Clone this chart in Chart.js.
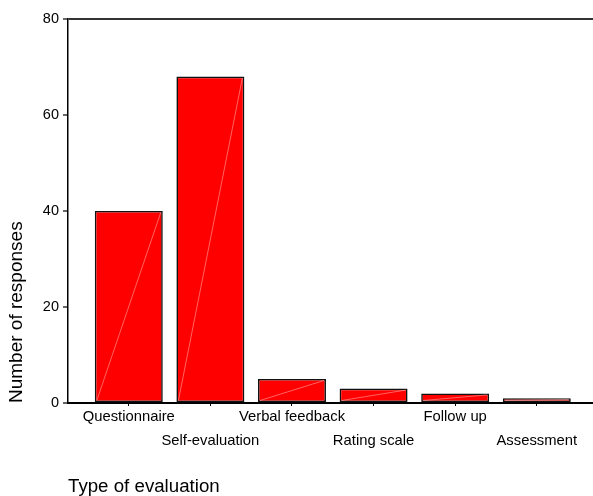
<!DOCTYPE html>
<html>
<head>
<meta charset="utf-8">
<script src="https://cdn.jsdelivr.net/npm/chart.js@4"></script>
<style>
  html, body { margin: 0; padding: 0; background: #fff; }
  #wrap { width: 593px; height: 496px; position: relative; }
</style>
</head>
<body>
<div id="wrap"><canvas id="c"></canvas></div>
<script>
// ---- data ----
const categories = ['Questionnaire', 'Self-evaluation', 'Verbal feedback', 'Rating scale', 'Follow up', 'Assessment'];
const responses = [40, 68, 5, 3, 2, 1];
const yTicks = [0, 20, 40, 60, 80];
const xTitle = 'Type of evaluation';
const yTitle = 'Number of responses';

const FONT = '"Liberation Sans", Arial, sans-serif';

// faint diagonal line inside each bar (as in the reference rendering)
const diagPlugin = {
  id: 'diag',
  afterDatasetsDraw(chart) {
    const ctx = chart.ctx;
    const meta = chart.getDatasetMeta(0);
    ctx.save();
    ctx.strokeStyle = 'rgba(255,200,200,0.7)';
    ctx.lineWidth = 0.7;
    meta.data.forEach(bar => {
      const p = bar.getProps(['x', 'y', 'base', 'width'], true);
      ctx.beginPath();
      ctx.moveTo(p.x - p.width / 2 + 2, p.base - 1.5);
      ctx.lineTo(p.x + p.width / 2 - 2, p.y + 1.5);
      ctx.stroke();
    });
    ctx.restore();
  }
};

new Chart(document.getElementById('c'), {
  type: 'bar',
  data: {
    datasets: [{
      data: responses.map((v, i) => ({ x: i, y: v })),
      backgroundColor: '#ff0000',
      borderColor: '#111',
      borderWidth: 1.6,
      borderSkipped: false,
      barPercentage: 0.833,
      categoryPercentage: 1
    }]
  },
  options: {
    responsive: true,
    maintainAspectRatio: false,
    animation: false,
    devicePixelRatio: 1,
    layout: { padding: { top: 19, right: 0, left: 0, bottom: 0 } },
    plugins: { legend: { display: false }, tooltip: { enabled: false } },
    scales: {
      x: {
        type: 'linear',
        offset: false,
        min: -0.745,
        max: 5.689,
        afterBuildTicks: s => { s.ticks = categories.map((c, i) => ({ value: i })); },
        afterFit: s => { s.height = 93; s.paddingLeft = 0; s.paddingRight = 0; },
        border: { display: true, color: '#000', width: 2 },
        grid: { offset: false, drawOnChartArea: false, drawTicks: true, tickLength: 3, tickColor: '#000', tickWidth: 1 },
        ticks: {
          autoSkip: false,
          maxRotation: 0,
          minRotation: 0,
          padding: -1,
          color: '#000',
          font: { family: FONT, size: 14.8, lineHeight: 1.63 },
          callback: (value) => {
            const i = Math.round(value);
            const l = categories[i];
            return i % 2 === 1 ? ['', l] : l;
          }
        },
        title: {
          display: true,
          text: xTitle,
          align: 'start',
          color: '#000',
          font: { family: FONT, size: 18.7 },
          padding: { top: 0, bottom: -2 }
        }
      },
      y: {
        min: 0,
        max: 80,
        afterBuildTicks: s => { s.ticks = yTicks.map(v => ({ value: v })); },
        afterFit: s => { s.width = 68; },
        border: { display: true, color: '#000', width: 1.5 },
        grid: {
          drawOnChartArea: true,
          color: c => (c.tick && c.tick.value === 80) ? '#333' : 'rgba(0,0,0,0)',
          lineWidth: 2,
          drawTicks: true,
          tickLength: 5,
          tickColor: '#000',
          tickWidth: 1.2
        },
        ticks: {
          padding: 4,
          color: '#000',
          font: { family: FONT, size: 14.5 }
        },
        title: {
          display: true,
          text: yTitle,
          align: 'start',
          color: '#000',
          font: { family: FONT, size: 19 },
          padding: { top: 5.5, bottom: 0 }
        }
      }
    }
  },
  plugins: [diagPlugin]
});
</script>
</body>
</html>
